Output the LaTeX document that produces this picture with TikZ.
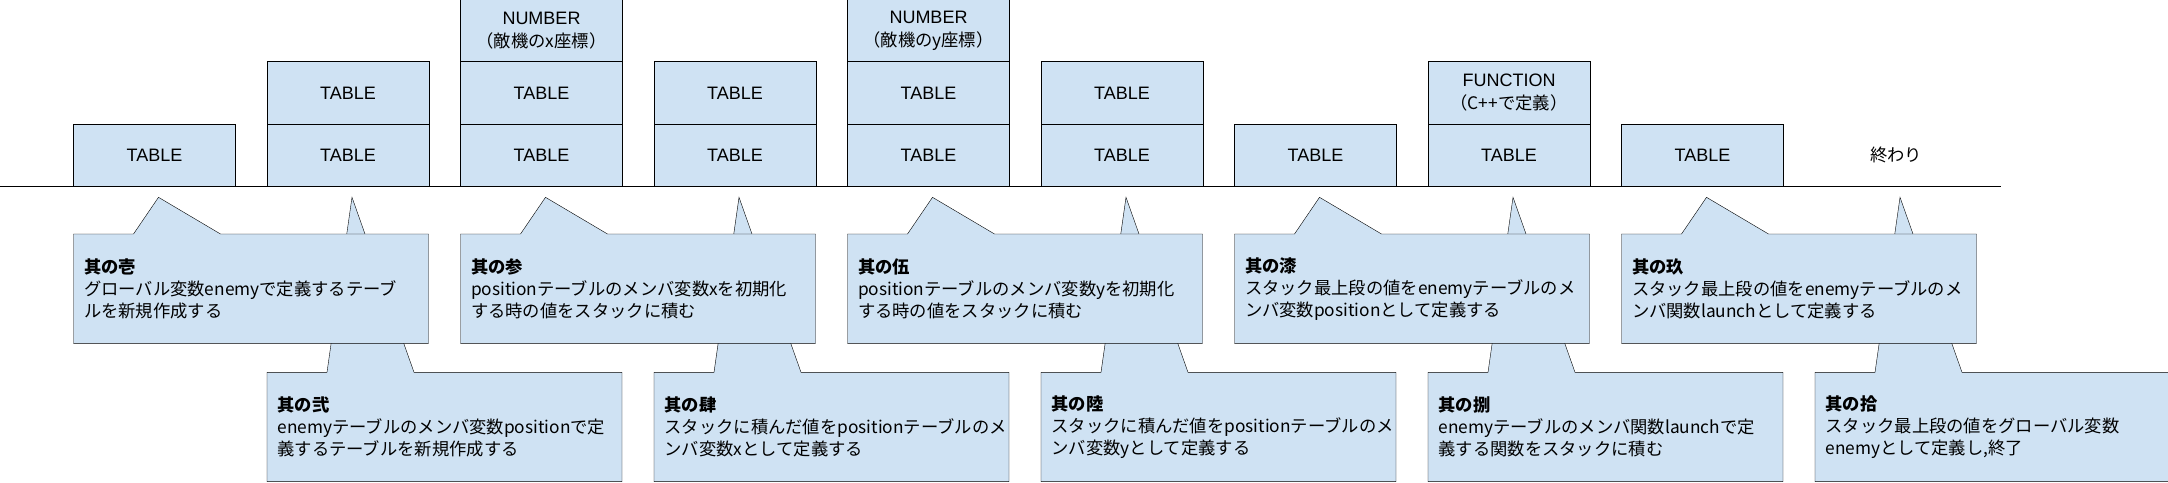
\documentclass[tikz,border=0pt]{standalone}
\usepackage{fontspec}
\setmainfont{Liberation Sans}
\newfontfamily\jpfont{Noto Sans CJK JP}
\usetikzlibrary{positioning,backgrounds}
\definecolor{cellblue}{HTML}{CFE2F3}

\begin{document}
\begin{tikzpicture}[
    x=1pt, y=1pt, line width=1pt,
    node distance=0pt and 31.5pt,
    cell/.style={draw, fill=cellblue, align=center, minimum width=162pt,
                 minimum height=62pt, inner sep=0pt, outer sep=0pt,
                 font=\fontsize{18}{23}\selectfont},
    note/.style={align=left, text width=334pt, inner xsep=10.5pt, inner ysep=0pt,
                 minimum height=109.3pt, outer sep=0pt,
                 font=\jpfont\fontsize{17.3}{22}\selectfont},
    bubble/.style={draw, fill=cellblue, line join=miter}
]
\useasboundingbox (0,-296) rectangle (2168,186);

% floor of the stack
\coordinate (floorL) at (0,0);
\coordinate (floorR) at (2000.5,0);
\draw (floorL) -- (floorR);

% bottom row
\node[cell] (t1) at (154.5,31) {TABLE};
\node[cell, right=of t1] (t2) {TABLE};
\node[cell, right=of t2] (t3) {TABLE};
\node[cell, right=of t3] (t4) {TABLE};
\node[cell, right=of t4] (t5) {TABLE};
\node[cell, right=of t5] (t6) {TABLE};
\node[cell, right=of t6] (t7) {TABLE};
\node[cell, right=of t7] (t8) {TABLE};
\node[cell, right=of t8] (t9) {TABLE};
\node[cell, right=of t9, draw=none, fill=none,
      font=\jpfont\fontsize{17.3}{23}\selectfont] (t10) {終わり};

% upper rows
\node[cell, above=of t2] (m2) {TABLE};
\node[cell, above=of t3] (m3) {TABLE};
\node[cell, above=of m3] (u3) {NUMBER\\{\jpfont\fontsize{17.3}{23}\selectfont （敵機のx座標）}};
\node[cell, above=of t4] (m4) {TABLE};
\node[cell, above=of t5] (m5) {TABLE};
\node[cell, above=of m5] (u5) {NUMBER\\{\jpfont\fontsize{17.3}{23}\selectfont （敵機のy座標）}};
\node[cell, above=of t6] (m6) {TABLE};
\node[cell, above=of t8] (m8) {FUNCTION\\{\jpfont\fontsize{17.3}{23}\selectfont （C++で定義）}};

% steps
\node[note, below right=48pt and 0pt of t1.south west] (n1)
    {{\bfseries 其の壱}\\グローバル変数enemyで定義するテーブ\\ルを新規作成する};
\node[note, below right=186.3pt and 0pt of t2.south west] (n2)
    {{\bfseries 其の弐}\\enemyテーブルのメンバ変数positionで定\\義するテーブルを新規作成する};
\node[note, below right=48pt and 0pt of t3.south west] (n3)
    {{\bfseries 其の参}\\positionテーブルのメンバ変数xを初期化\\する時の値をスタックに積む};
\node[note, below right=186.3pt and 0pt of t4.south west] (n4)
    {{\bfseries 其の肆}\\スタックに積んだ値をpositionテーブルのメ\\ンバ変数xとして定義する};
\node[note, below right=48pt and 0pt of t5.south west] (n5)
    {{\bfseries 其の伍}\\positionテーブルのメンバ変数yを初期化\\する時の値をスタックに積む};
\node[note, below right=186.3pt and 0pt of t6.south west] (n6)
    {{\bfseries 其の陸}\\スタックに積んだ値をpositionテーブルのメ\\ンバ変数yとして定義する};
\node[note, below right=48pt and 0pt of t7.south west] (n7)
    {{\bfseries 其の漆}\\スタック最上段の値をenemyテーブルのメ\\ンバ変数positionとして定義する};
\node[note, below right=186.3pt and 0pt of t8.south west] (n8)
    {{\bfseries 其の捌}\\enemyテーブルのメンバ関数launchで定\\義する関数をスタックに積む};
\node[note, below right=48pt and 0pt of t9.south west] (n9)
    {{\bfseries 其の玖}\\スタック最上段の値をenemyテーブルのメ\\ンバ関数launchとして定義する};
\node[note, below right=186.3pt and 0pt of t10.south west] (n10)
    {{\bfseries 其の拾}\\スタック最上段の値をグローバル変数\\enemyとして定義し,終了};

% callout outlines, lower row first
\begin{scope}[on background layer]
\foreach \n/\h in {n2/175, n4/175, n6/175, n8/175, n10/175,
                   n1/36.7, n3/36.7, n5/36.7, n7/36.7, n9/36.7}
  \draw[bubble] (\n.north west) -- ++(60,0) -- ++(25,\h) -- ++(62,-\h)
      -- (\n.north east) -- (\n.south east) -- (\n.south west) -- cycle;
\end{scope}
\end{tikzpicture}
\end{document}
